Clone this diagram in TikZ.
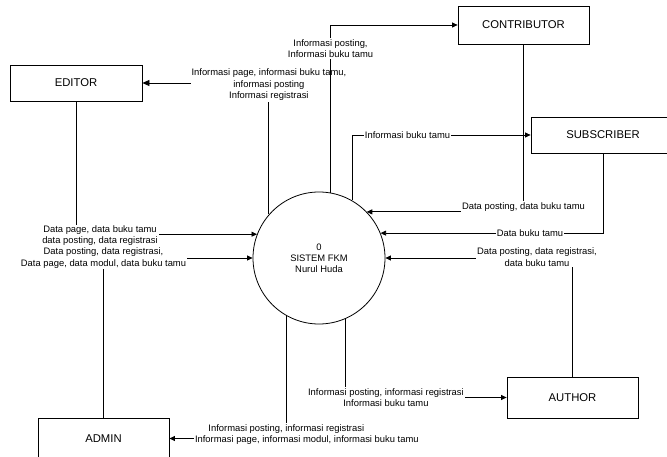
\documentclass[tikz,border=0pt]{standalone}
\usepackage{fontspec}
\setmainfont{Liberation Sans}
\usepackage{tikz}
\usetikzlibrary{arrows.meta}
\tikzstyle{Flow} = [
%Create data flow arrow style:
line width = 0.8pt,
-{Triangle[length=5.5pt, width=5pt]}
]

\begin{document}
\begin{tikzpicture}[x = 1pt, y = -1pt,
			entity/.style = {rectangle, line width = 0.8pt, draw, text centered, minimum width = 131pt, minimum height = 37pt, font = \fontsize{11.3}{13}\selectfont},
			process/.style = {circle, line width = 0.8pt, draw, align = center, minimum size = 132pt, inner sep = 0pt, font = \fontsize{9.4}{11}\selectfont},
			info/.style = {fill = white, align = center, inner sep = 1pt, font = \fontsize{9.4}{11.5}\selectfont},
		]
		\useasboundingbox (0,0) rectangle (667,457);

		\node[process](SYS) at (319,258){0\\SISTEM FKM\\Nurul Huda};

		\node[entity, minimum width = 132pt, minimum height = 36pt](ED) at (76,83){EDITOR};
		\node[entity, minimum height = 38pt](CO) at (523.5,25){CONTRIBUTOR};
		\node[entity, minimum width = 144pt, minimum height = 36pt](SU) at (603,135){SUBSCRIBER};
		\node[entity, minimum height = 41pt](AU) at (572.5,397.5){AUTHOR};
		\node[entity, minimum height = 41pt](AD) at (103.5,438.5){ADMIN};

		% keluar dari sistem
		\draw[Flow, -{Triangle[length=7pt, width=6pt]}](SYS.139) |- node[info, yshift=-2pt] {Informasi page, informasi buku tamu,\\informasi posting\\Informasi registrasi}(ED.east);
		\draw[Flow](SYS.80) |- node[info, pos=0.43] {Informasi posting,\\Informasi buku tamu}(CO.west);
		\draw[Flow](SYS.60) |- node[info, pos=0.655] {Informasi buku tamu}(SU.west);
		\draw[Flow](SYS.-67) |- node[info, xshift=41pt] {Informasi posting, informasi registrasi\\Informasi buku tamu}(AU.west);
		\draw[Flow](SYS.241) |- node[info, xshift=20pt, yshift=4pt] {Informasi posting, informasi registrasi\kern41pt\\Informasi page, informasi modul, informasi buku tamu}(AD.east);

		% masuk ke sistem
		\draw[Flow](CO.south) |- node[info, yshift=5pt] {Data posting, data buku tamu}(SYS.44);
		\draw[Flow](SU.south) |- node[info, pos=0.664] {Data buku tamu}(SYS.22);
		\draw[Flow](AU.north) |- node[info, xshift=-35.5pt, yshift=1pt] {Data posting, data registrasi,\\data buku tamu}(SYS.east);
		\draw[Flow](ED.south) |- node[info, xshift=24pt, yshift=-1.5pt] {Data page, data buku tamu\\data posting, data registrasi}(SYS.159);
		\draw[Flow](AD.north) |- node[info, yshift=0pt] {Data posting, data registrasi,\\Data page, data modul, data buku tamu}(SYS.west);

	\end{tikzpicture}
\end{document}
